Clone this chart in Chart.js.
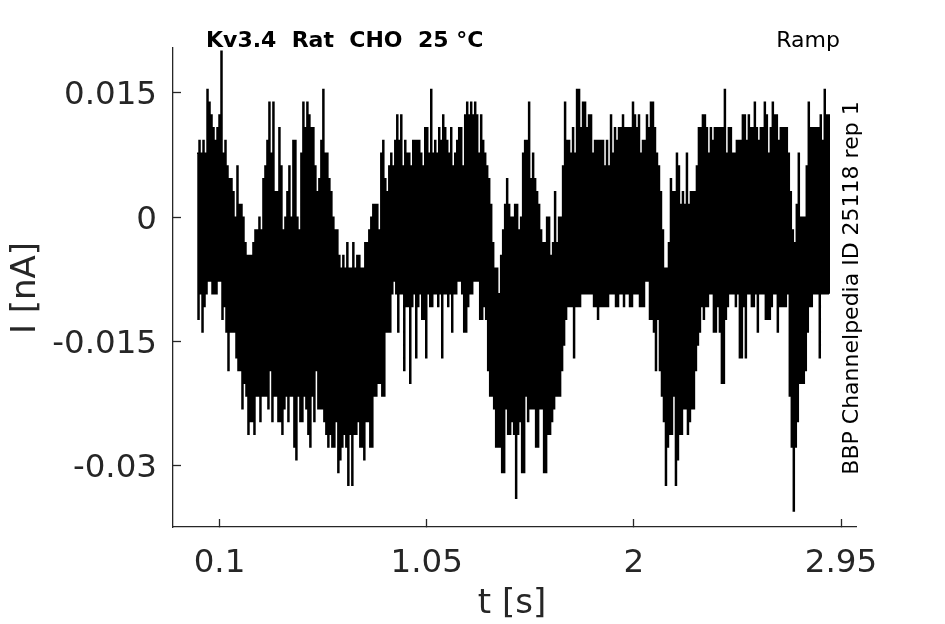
<!DOCTYPE html>
<html>
<head>
<meta charset="utf-8">
<title>Kv3.4 Rat CHO</title>
<script src="https://cdn.jsdelivr.net/npm/chart.js@4"></script>
<style>
html, body { margin: 0; padding: 0; background: #fff; }
canvas { display: block; }
</style>
</head>
<body>
<canvas id="chart" width="945" height="624"></canvas>
<script>
const upperLevels = [
  5,6,5,6,5,10,9,8,7,6,
  7,8,13,5,6,4,3,3,2,0,
  4,1,1,0,-2,-3,-3,-3,-2,-1,
  -1,0,-1,3,4,6,9,5,9,2,
  2,7,4,-1,0,2,4,0,6,6,
  0,-1,5,9,7,9,8,7,7,4,
  2,3,6,10,5,5,3,2,0,-1,
  -1,-3,-4,-3,-4,-2,-4,-4,-2,-4,
  -3,-3,-4,-4,-2,-2,-1,0,1,1,
  1,-1,5,6,3,2,4,5,4,6,
  8,6,8,4,6,5,5,4,6,6,
  6,6,5,4,7,7,5,10,5,6,
  5,7,6,8,7,6,5,7,4,5,
  6,7,7,4,8,9,8,9,8,9,
  8,5,8,6,5,4,3,1,-2,-4,
  -4,-6,-3,-1,1,3,1,0,0,1,
  1,-1,0,5,6,6,9,3,5,3,
  2,1,-1,-2,-2,0,0,-3,-2,2,
  -2,0,0,4,9,6,6,5,7,5,
  10,10,7,9,9,7,8,8,5,6,
  6,6,6,6,4,6,4,8,5,7,
  6,7,7,8,7,7,7,7,9,8,
  7,8,5,6,6,8,7,9,9,7,
  5,4,2,-1,-4,-4,-2,3,2,2,
  5,4,1,2,1,5,1,2,2,2,
  4,7,7,8,8,7,5,7,6,7,
  7,7,7,7,10,5,7,7,5,5,
  6,6,6,8,8,6,8,7,7,9,
  7,6,7,7,9,8,5,7,9,8,
  8,6,7,7,7,7,5,2,-1,-2,
  1,5,0,0,0,4,9,7,7,7,
  7,7,8,6,10,8,8
];
const lowerLevels = [
  -8,-6,-9,-7,-6,-5,-5,-6,-6,-6,
  -5,-5,-8,-7,-9,-12,-9,-9,-9,-11,
  -12,-12,-15,-13,-14,-17,-16,-16,-17,-14,
  -14,-16,-14,-14,-14,-15,-12,-16,-14,-14,
  -16,-16,-17,-15,-14,-16,-14,-14,-18,-19,
  -14,-16,-16,-14,-15,-17,-18,-14,-16,-12,
  -15,-15,-15,-16,-17,-18,-17,-18,-18,-16,
  -20,-19,-18,-17,-18,-21,-17,-21,-17,-17,
  -16,-18,-18,-19,-16,-16,-18,-18,-14,-14,
  -13,-13,-14,-14,-9,-9,-9,-6,-5,-6,
  -9,-6,-6,-12,-7,-7,-13,-7,-6,-11,
  -7,-6,-8,-8,-11,-6,-7,-7,-6,-6,
  -7,-6,-11,-6,-6,-7,-6,-9,-6,-6,
  -5,-5,-6,-9,-9,-7,-6,-6,-5,-5,
  -5,-8,-8,-7,-8,-12,-14,-14,-15,-18,
  -18,-18,-20,-20,-15,-17,-17,-16,-17,-22,
  -17,-16,-20,-20,-14,-16,-15,-15,-15,-18,
  -18,-15,-15,-20,-20,-17,-17,-16,-15,-14,
  -14,-14,-12,-10,-8,-7,-7,-7,-11,-7,
  -7,-7,-6,-6,-6,-6,-6,-6,-7,-7,
  -8,-7,-7,-7,-7,-7,-6,-6,-6,-7,
  -7,-6,-6,-7,-6,-6,-7,-7,-6,-6,
  -6,-7,-7,-7,-5,-5,-8,-8,-9,-12,
  -8,-12,-14,-16,-21,-18,-17,-17,-14,-21,
  -19,-17,-17,-15,-15,-17,-16,-15,-15,-12,
  -10,-9,-7,-8,-7,-7,-6,-6,-9,-9,
  -7,-9,-13,-13,-8,-7,-6,-6,-6,-7,
  -6,-11,-11,-7,-11,-6,-6,-7,-7,-6,
  -9,-6,-6,-6,-8,-8,-8,-7,-6,-6,
  -9,-7,-7,-7,-7,-6,-14,-18,-23,-18,
  -16,-13,-13,-13,-12,-9,-7,-7,-6,-6,
  -6,-11,-6,-6,-6,-6,-6
];
const nAPerLevel = 0.00154;
const sampleStep = 0.00916;
const traceStart = -0.003;

const xTicks = [0.1, 1.05, 2, 2.95];
const xTickLabels = ["0.1", "1.05", "2", "2.95"];
const yTicks = [-0.03, -0.015, 0, 0.015];
const yTickLabels = ["-0.03", "-0.015", "0", "0.015"];

const titleText = "Kv3.4  Rat  CHO  25 °C";
const cornerText = "Ramp";
const sideText = "BBP Channelpedia ID 25118 rep 1";
const xAxisText = "t [s]";
const yAxisText = "I [nA]";

const fontName = "'DejaVu Sans'";
const axisColor = "#262626";

const points = [];
upperLevels.forEach((u, i) => {
    points.push({ x: traceStart + i * sampleStep, y: u * nAPerLevel });
    points.push({ x: traceStart + (i + 0.5) * sampleStep, y: lowerLevels[i] * nAPerLevel });
});

const annotations = {
    id: "annotations",
    afterDraw(c) {
        const ctx = c.ctx;
        ctx.save();
        ctx.fillStyle = "#000";
        ctx.textBaseline = "middle";
        ctx.textAlign = "left";
        ctx.font = "bold 22px " + fontName;
        ctx.fillText(titleText, 206, 41);
        ctx.font = "22px " + fontName;
        ctx.textAlign = "right";
        ctx.fillText(cornerText, 840, 41);
        ctx.save();
        ctx.translate(852, 288);
        ctx.rotate(-Math.PI / 2);
        ctx.textAlign = "center";
        ctx.fillText(sideText, 0, 0);
        ctx.restore();

        ctx.fillStyle = axisColor;
        ctx.font = "34px " + fontName;
        ctx.textAlign = "center";
        ctx.fillText(xAxisText, 512, 604);
        ctx.translate(26, 288);
        ctx.rotate(-Math.PI / 2);
        ctx.fillText(yAxisText, 0, 0);
        ctx.restore();
    }
};

new Chart(document.getElementById("chart").getContext("2d"), {
    type: "line",
    data: {
        datasets: [{
            data: points,
            borderColor: "#000",
            borderWidth: 1.5,
            pointRadius: 0,
            stepped: true
        }]
    },
    options: {
        responsive: false,
        animation: false,
        devicePixelRatio: 1,
        layout: { padding: { top: 48, right: 88.5, left: 0, bottom: 0 } },
        plugins: { legend: { display: false }, tooltip: { enabled: false }, title: { display: false } },
        scales: {
            x: {
                type: "linear",
                min: -0.1132,
                max: 3.021,
                afterBuildTicks: s => { s.ticks = xTicks.map(v => ({ value: v })); },
                afterFit: s => { s.height = 97; },
                border: { color: axisColor, width: 1.3 },
                grid: { drawOnChartArea: false, tickLength: -8, color: axisColor, tickWidth: 1.3 },
                ticks: {
                    autoSkip: false,
                    maxRotation: 0,
                    padding: 25,
                    color: axisColor,
                    font: { family: fontName, size: 32.5 },
                    callback: v => xTickLabels[xTicks.indexOf(v)]
                }
            },
            y: {
                type: "linear",
                min: -0.03736,
                max: 0.0204,
                afterBuildTicks: s => { s.ticks = yTicks.map(v => ({ value: v })); },
                afterFit: s => { s.width = 173; },
                border: { color: axisColor, width: 1.3 },
                grid: { drawOnChartArea: false, tickLength: -8, color: axisColor, tickWidth: 1.3 },
                ticks: {
                    autoSkip: false,
                    padding: 24,
                    labelOffset: 3,
                    color: axisColor,
                    font: { family: fontName, size: 32.5 },
                    callback: v => yTickLabels[yTicks.indexOf(v)]
                }
            }
        }
    },
    plugins: [annotations]
});
</script>
</body>
</html>
